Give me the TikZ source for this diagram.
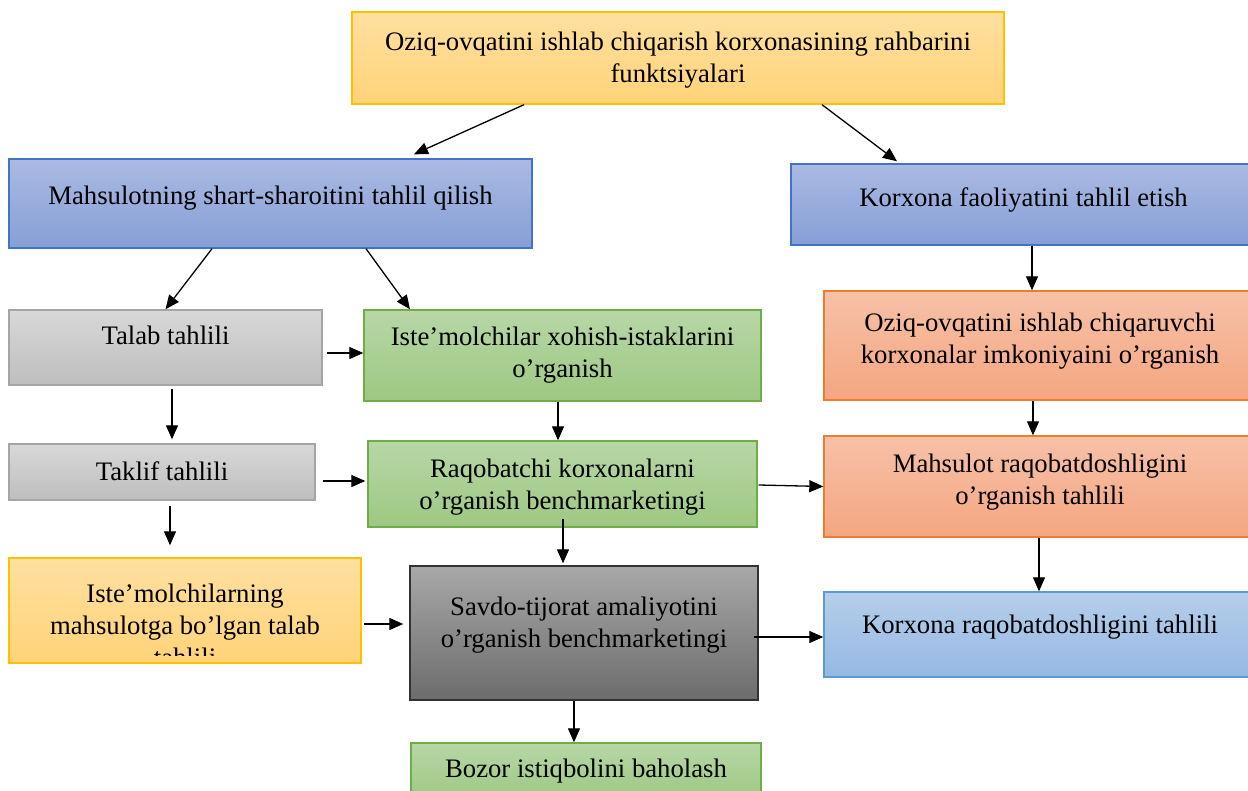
\documentclass[tikz,border=0pt]{standalone}
\usepackage{fontspec}
\setmainfont{Liberation Serif}
\usetikzlibrary{arrows.meta,calc}
\definecolor{obord}{RGB}{255,192,0}
\definecolor{otop}{RGB}{255,224,160}
\definecolor{obot}{RGB}{255,211,120}
\definecolor{bbord}{RGB}{68,114,196}
\definecolor{btop}{RGB}{170,186,226}
\definecolor{bbot}{RGB}{134,159,215}
\definecolor{gbord}{RGB}{165,165,165}
\definecolor{gtop}{RGB}{216,216,216}
\definecolor{gbot}{RGB}{190,190,190}
\definecolor{vbord}{RGB}{112,173,71}
\definecolor{vtop}{RGB}{183,215,166}
\definecolor{vbot}{RGB}{157,200,130}
\definecolor{sbord}{RGB}{237,125,49}
\definecolor{stop}{RGB}{247,193,168}
\definecolor{sbot}{RGB}{244,166,128}
\definecolor{lbord}{RGB}{91,155,213}
\definecolor{ltop}{RGB}{182,206,234}
\definecolor{lbot}{RGB}{149,185,227}
\definecolor{dbord}{RGB}{50,50,50}
\definecolor{dtop}{RGB}{168,168,168}
\definecolor{dbot}{RGB}{108,108,108}
\newcommand{\mkbox}[6]{%
  \node[#2, minimum width={(#5-#3)*1pt}, minimum height={(#6-#4)*1pt}]
    (#1) at ({(#3+#5)/2},{(#4+#6)/2}) {};}
\tikzset{
  boxbase/.style={rectangle, inner sep=0pt, line width=1.4pt},
  orbox/.style={boxbase, draw=obord, top color=otop, bottom color=obot},
  blbox/.style={boxbase, draw=bbord, top color=btop, bottom color=bbot},
  grbox/.style={boxbase, draw=gbord, top color=gtop, bottom color=gbot},
  gnbox/.style={boxbase, draw=vbord, top color=vtop, bottom color=vbot},
  sabox/.style={boxbase, draw=sbord, top color=stop, bottom color=sbot},
  lbbox/.style={boxbase, draw=lbord, top color=ltop, bottom color=lbot},
  dkbox/.style={boxbase, draw=dbord, top color=dtop, bottom color=dbot},
  txt/.style={inner sep=0pt, anchor=base, align=center,
    font=\fontsize{26.7}{32}\selectfont},
  arr/.style={line width=1.3pt, -{Triangle[length=14pt,width=12pt]}}
}
\begin{document}
\begin{tikzpicture}[x=1pt,y=-1pt]
\useasboundingbox (0,0) rectangle (1248,791);
\fill[white] (0,0) rectangle (1248,791);
% boxes
\mkbox{top}{orbox}{352}{12}{1004}{104}
\mkbox{mahs}{blbox}{9}{159}{532}{248}
\mkbox{korf}{blbox}{791}{164}{1256}{245}
\mkbox{talab}{grbox}{9}{310}{322}{385}
\mkbox{istx}{gnbox}{364}{310}{761}{401}
\mkbox{oziqch}{sabox}{824}{291}{1256}{400}
\mkbox{taklif}{grbox}{9}{444}{315}{500}
\mkbox{raq}{gnbox}{368}{441}{757}{527}
\mkbox{mraq}{sabox}{824}{436}{1256}{537}
\mkbox{istm}{orbox}{9}{558}{361}{663}
\mkbox{savdo}{dkbox}{410}{566}{758}{700}
\mkbox{kraq}{lbbox}{824}{592}{1256}{677}
\mkbox{bozor}{gnbox}{411}{743}{761}{800}
% texts
\node[txt] (ttop) at (678,83) {Oziq-ovqatini ishlab chiqarish korxonasining rahbarini\\funktsiyalari};
\node[txt] (tmahs) at (270.5,205) {Mahsulotning shart-sharoitini tahlil qilish};
\node[txt] (tkorf) at (1023.5,207) {Korxona faoliyatini tahlil etish};
\node[txt] (ttalab) at (165.5,345) {Talab tahlili};
\node[txt] (tistx) at (562.5,378) {Iste’molchilar xohish-istaklarini\\o’rganish};
\node[txt] (toziqch) at (1040,364) {Oziq-ovqatini ishlab chiqaruvchi\\korxonalar imkoniyaini o’rganish};
\node[txt] (ttaklif) at (162,480) {Taklif tahlili};
\node[txt] (traq) at (562.5,509) {Raqobatchi korxonalarni\\o’rganish benchmarketingi};
\node[txt] (tmraq) at (1040,504) {Mahsulot raqobatdoshligini\\o’rganish tahlili};
\begin{scope}
\clip (9,558) rectangle (361,655);
\node[txt] (tistm) at (185,666) {Iste’molchilarning\\mahsulotga bo’lgan talab\\tahlili};
\end{scope}
\node[txt] (tsavdo) at (584,647) {Savdo-tijorat amaliyotini\\o’rganish benchmarketingi};
\node[txt] (tkraq) at (1040,633) {Korxona raqobatdoshligini tahlili};
\node[txt] (tbozor) at (586,777) {Bozor istiqbolini baholash};
% arrows
\draw[arr] ([xshift=-154]top.south) -- ([xshift=143.5,yshift=4]mahs.north);
\draw[arr] ([xshift=144]top.south) -- ([xshift=-126.5,yshift=2]korf.north);
\draw[arr] ([xshift=-58.5]mahs.south) -- (talab.north);
\draw[arr] ([xshift=95.5]mahs.south) -- ([xshift=-152.5]istx.north);
\draw[arr] ([xshift=8.5]korf.south) -- ([xshift=-8]oziqch.north);
\draw[arr] ([xshift=4,yshift=-5.5]talab.east) -- ([yshift=2.5]istx.west);
\draw[arr] ([xshift=6.5,yshift=-3]talab.south) -- ([xshift=10,yshift=4]taklif.north);
\draw[arr] ([xshift=-4.5]istx.south) -- ([xshift=-4.5]raq.north);
\draw[arr] ([xshift=-7]oziqch.south) -- ([xshift=-7]mraq.north);
\draw[arr] ([xshift=7,yshift=-9]taklif.east) -- ([xshift=-2,yshift=3]raq.west);
\draw[arr] ([xshift=8,yshift=-5]taklif.south) -- ([xshift=-15,yshift=12]istm.north);
\draw[arr] ([xshift=1,yshift=-1]raq.east) -- (mraq.west);
\draw[arr] ([xshift=0.5,yshift=9]raq.south) -- ([xshift=-21,yshift=2]savdo.north);
\draw[arr] ([xshift=-1]mraq.south) -- ([xshift=-1]kraq.north);
\draw[arr] ([xshift=2,yshift=-13.5]istm.east) -- ([xshift=-6,yshift=9]savdo.west);
\draw[arr] ([xshift=-5,yshift=-4]savdo.east) -- ([yshift=-2.5]kraq.west);
\draw[arr] ([xshift=-10]savdo.south) -- ([xshift=-12]bozor.north);
\end{tikzpicture}
\end{document}
